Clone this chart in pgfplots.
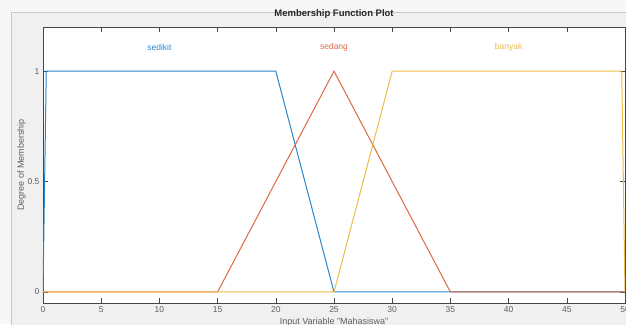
\documentclass[border=0pt]{standalone}
\usepackage{pgfplots}
\pgfplotsset{compat=1.18}
\usepackage{fontspec}
\setmainfont{Liberation Sans}
\definecolor{mblue}{RGB}{40,135,205}
\definecolor{morange}{RGB}{222,105,70}
\definecolor{myellow}{RGB}{238,188,70}
\definecolor{figbg}{RGB}{240,240,240}
\definecolor{axcol}{RGB}{70,70,70}
\definecolor{tickcol}{RGB}{95,95,95}
\begin{document}
\begin{tikzpicture}
\useasboundingbox (0,0) rectangle (626pt,-324pt);
\fill[white!97!black] (0,0) rectangle (626pt,-324pt);
\filldraw[fill=figbg, draw=black!22] (11pt,-12pt) rectangle (640pt,-340pt);
\begin{axis}[
  at={(43pt,-303pt)}, anchor=south west,
  scale only axis, width=582pt, height=276pt,
  xmin=0, xmax=50, ymin=-0.05, ymax=1.2,
  xtick={0,5,...,50}, ytick={0,0.5,1},
  yticklabels={0,0.5,1},
  tick align=inside, major tick length=5pt,
  axis background/.style={fill=white},
  axis line style={draw=axcol, line width=0.6pt},
  every tick/.style={draw=axcol, line width=0.5pt},
  tick label style={font=\fontsize{8.5}{9}\selectfont, text=tickcol},
  /pgf/number format/assume math mode=true,
  title={Membership Function Plot},
  title style={font=\bfseries\fontsize{9.5}{10}\selectfont, text=black!85, at={(axis description cs:0.5,1)}, anchor=south, yshift=-1pt},
  xlabel={Input Variable "Mahasiswa"},
  xlabel style={font=\fontsize{9}{10}\selectfont, text=tickcol, at={(axis description cs:0.5,-0.069)}, anchor=center},
  ylabel={Degree of Membership},
  ylabel style={font=\fontsize{9}{10}\selectfont, text=tickcol, at={(axis description cs:-0.037,0.5)}, anchor=center, rotate=0},
]
\addplot[mblue, line width=1pt] coordinates {(0,0) (0.28,1) (20,1) (25,0) (50,0)};
\addplot[morange, line width=1pt] coordinates {(0,0) (15,0) (25,1) (35,0) (50,0)};
\addplot[myellow, line width=1pt] coordinates {(0,0) (25,0) (30,1) (49.72,1) (50,0)};
\node[text=mblue, font=\fontsize{8.5}{9}\selectfont] at (axis cs:10,1.107) {sedikit};
\node[text=morange, font=\fontsize{8.5}{9}\selectfont] at (axis cs:25,1.107) {sedang};
\node[text=myellow, font=\fontsize{8.5}{9}\selectfont] at (axis cs:40,1.107) {banyak};
\end{axis}
\end{tikzpicture}
\end{document}
